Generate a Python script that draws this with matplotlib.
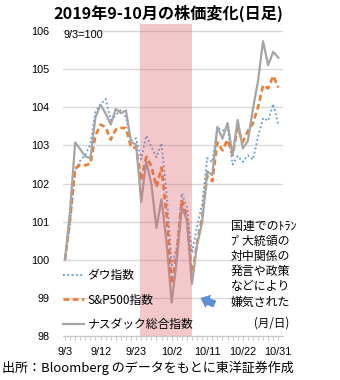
import matplotlib
matplotlib.use("Agg")
import matplotlib.pyplot as plt

plt.rcParams['font.family'] = ['Noto Sans CJK JP', 'DejaVu Sans']

# 営業日 (9/3-10/31)
dates = ["9/3", "9/4", "9/5", "9/6", "9/9", "9/10", "9/11", "9/12", "9/13", "9/16",
         "9/17", "9/18", "9/19", "9/20", "9/23", "9/24", "9/25", "9/26", "9/27", "9/30",
         "10/1", "10/2", "10/3", "10/4", "10/7", "10/8", "10/9", "10/10", "10/11", "10/14",
         "10/15", "10/16", "10/17", "10/18", "10/21", "10/22", "10/23", "10/24", "10/25",
         "10/28", "10/29", "10/30", "10/31"]

dow = [100.00, 100.91, 102.34, 102.60, 102.75, 103.03, 103.90, 104.08, 104.22, 103.67,
       103.80, 103.94, 103.74, 103.13, 103.19, 102.64, 103.26, 102.96, 102.69, 103.06,
       101.74, 99.85, 100.32, 101.74, 101.38, 100.18, 100.87, 101.45, 102.67, 102.56,
       103.47, 103.39, 103.48, 102.50, 102.72, 102.57, 102.74, 102.63, 103.22, 103.72,
       103.65, 104.09, 103.55]

sp500 = [100.00, 101.08, 102.40, 102.49, 102.48, 102.52, 103.26, 103.55, 103.48, 103.15,
         103.42, 103.46, 103.46, 102.95, 102.94, 102.08, 102.70, 102.46, 101.91, 102.42,
         101.17, 99.36, 100.15, 101.57, 101.12, 99.55, 100.45, 101.10, 102.20, 102.06,
         103.08, 102.87, 103.15, 102.75, 103.46, 103.09, 103.38, 103.58, 104.00, 104.58,
         104.50, 104.83, 104.52]

nasdaq = [100.00, 101.30, 103.08, 102.90, 102.71, 102.67, 103.75, 104.07, 103.84, 103.55,
          103.96, 103.85, 103.92, 103.09, 103.03, 101.52, 102.58, 101.99, 100.83, 101.59,
          100.44, 98.87, 99.98, 101.38, 101.04, 99.36, 100.38, 100.97, 102.32, 102.22,
          103.49, 103.18, 103.59, 102.74, 103.67, 102.92, 103.12, 103.96, 104.69, 105.74,
          105.11, 105.46, 105.31]

labels = ["ダウ指数", "S&P500指数", "ナスダック総合指数"]
shade_from, shade_to = "9/24", "10/8"
yticks = [98, 99, 100, 101, 102, 103, 104, 105, 106]

x = list(range(len(dates)))

fig = plt.figure(figsize=(3.4, 3.8), dpi=100)
ax = fig.add_axes([0.186, 0.1166, 0.646, 0.82])

ax.plot(x, dow, color='#5B9BD5', lw=1.3, ls=(0, (1, 1.4)), label=labels[0], zorder=2)
ax.plot(x, sp500, color='#ED7D31', lw=1.9, ls=(0, (2.2, 1.3)), label=labels[1], zorder=2)
ax.plot(x, nasdaq, color='#A5A5A5', lw=1.6, label=labels[2], zorder=2)

# 下落局面の網掛け
i0, i1 = dates.index(shade_from), dates.index(shade_to)
ax.axvspan(i0 - 0.3, i1 + 0.1, color='#DA626C', alpha=0.35, lw=0, zorder=3)

ax.set_xlim(-0.35, 42.9)
ax.set_ylim(98, 106.19)
ax.set_yticks(yticks)
ax.set_yticklabels([str(v) for v in yticks], family='Liberation Sans', fontsize=7.8)
ax.grid(axis='y', color='#D9D9D9', lw=1, zorder=0)
ax.tick_params(axis='y', length=0, pad=10)

ax.set_xticks(x)
ax.set_xticklabels([d if i % 7 == 0 else "" for i, d in enumerate(dates)],
                   family='Liberation Sans', fontsize=7.8)
ax.tick_params(axis='x', length=3, color='#C8C8C8', width=0.8, pad=5)
for s in ['left', 'top', 'right']:
    ax.spines[s].set_visible(False)
ax.spines['bottom'].set_color('#C8C8C8')

leg = ax.legend(loc='lower left', bbox_to_anchor=(0.0, 0.014), frameon=False,
                fontsize=8.5, handlelength=1.75, handletextpad=0.3, labelspacing=1.0,
                borderpad=0, borderaxespad=0)
leg.set_zorder(5)

ax.text(0.0, 0.965, "9/3=100", transform=ax.transAxes, fontsize=7.8,
        family='Liberation Sans', va='center', ha='left')
ax.text(1.03, 0.04, "(月/日)", transform=ax.transAxes, fontsize=8.3,
        va='center', ha='right')

ax.text(32.6, 101.05, "国連でのﾄﾗﾝ\nﾌﾟ大統領の\n対中関係の\n発言や政策\nなどにより\n嫌気された",
        fontsize=8.6, va='top', ha='left', linespacing=1.22, zorder=6)

ax.annotate("", xy=(26.15, 99.02), xytext=(30.0, 98.8),
            arrowprops=dict(arrowstyle='simple,head_length=0.9,head_width=1.5,tail_width=0.75',
                            mutation_scale=7, color='#5A93CF', lw=0),
            zorder=6)

fig.text(0.495, 0.965, "2019年9-10月の株価変化(日足)", fontsize=11.6, fontweight='bold',
         ha='center', va='center')
fig.text(0.005, 0.032, "出所：Bloomberg のデータをもとに東洋証券作成", fontsize=9.4,
         ha='left', va='center')

fig.savefig("out.png", dpi=100)
